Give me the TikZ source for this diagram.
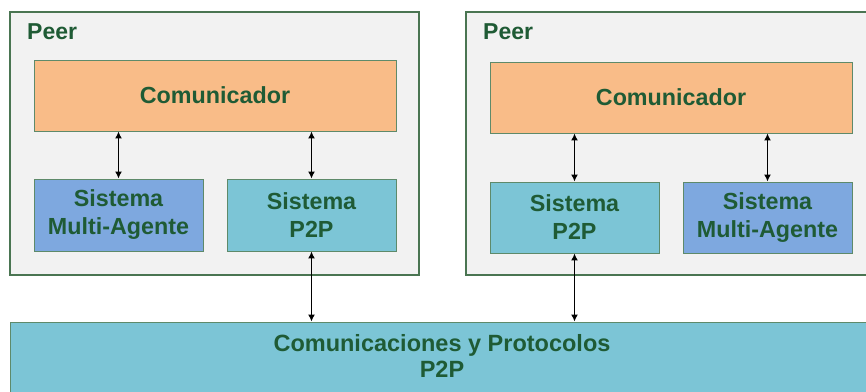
\documentclass[tikz,border=0pt]{standalone}
\usepackage{fontspec}
\setmainfont{Liberation Sans}
\usetikzlibrary{arrows.meta}
\definecolor{peerbg}{HTML}{F2F2F2}
\definecolor{peerline}{HTML}{4A7552}
\definecolor{txtgreen}{HTML}{1F5B35}
\definecolor{orangefill}{HTML}{F9BC88}
\definecolor{bluefill}{HTML}{7EA8DF}
\definecolor{cyanfill}{HTML}{7CC5D6}
\definecolor{boxline}{HTML}{5E8A6A}
\tikzset{
  peerbox/.style={draw=peerline, line width=1.4pt, fill=peerbg},
  blk/.style={draw=boxline, line width=0.9pt, inner sep=0pt, text=txtgreen,
    font=\fontsize{23.3}{28}\selectfont\bfseries, align=center},
  lbl/.style={text=txtgreen, font=\fontsize{23}{28}\selectfont\bfseries, anchor=west, inner sep=0pt},
  link/.style={draw=black, line width=1.8pt, {Latex[length=7pt,width=7pt]}-{Latex[length=7pt,width=7pt]}}
}
\begin{document}
\begin{tikzpicture}[x=1pt,y=-1pt]
\useasboundingbox (0,0) rectangle (866,391);
% peer boxes
\path[peerbox] (10,12) rectangle (419,275);
\path[peerbox] (466,12) rectangle (875,275);
\node[lbl] (peerA) at (27,32) {Peer};
\node[lbl] (peerB) at (483,32) {Peer};
% left peer
\node[blk, fill=orangefill, minimum width=362pt, minimum height=71pt] (comA) at (215,95.5) {Comunicador};
\node[blk, fill=bluefill, minimum width=169pt, minimum height=72pt] (maA) at (118.5,215) {Sistema\\Multi-Agente};
\node[blk, fill=cyanfill, minimum width=169pt, minimum height=72pt] (ppA) at (311.5,215) {Sistema\\P2P};
% right peer
\node[blk, fill=orangefill, minimum width=362pt, minimum height=71pt] (comB) at (671,97.5) {Comunicador};
\node[blk, fill=cyanfill, minimum width=169pt, minimum height=71pt] (ppB) at (574.5,217.5) {Sistema\\P2P};
\node[blk, fill=bluefill, minimum width=169pt, minimum height=71pt] (maB) at (767.5,217.5) {Sistema\\Multi-Agente};
% bottom
\node[blk, fill=cyanfill, minimum width=870pt, minimum height=80pt] (net) at (445,362) {};
\node[text=txtgreen, font=\fontsize{23.5}{26}\selectfont\bfseries, align=center, inner sep=0pt] (netlbl) at (442,356) {Comunicaciones y Protocolos\\P2P};
% links
\draw[link] (comA.south -| maA.north) -- (maA.north);
\draw[link] (comA.south -| ppA.north) -- (ppA.north);
\draw[link] (comB.south -| ppB.north) -- (ppB.north);
\draw[link] (comB.south -| maB.north) -- (maB.north);
\draw[link] (ppA.south) -- (ppA.south |- net.north);
\draw[link] (ppB.south) -- (ppB.south |- net.north);
\end{tikzpicture}
\end{document}
